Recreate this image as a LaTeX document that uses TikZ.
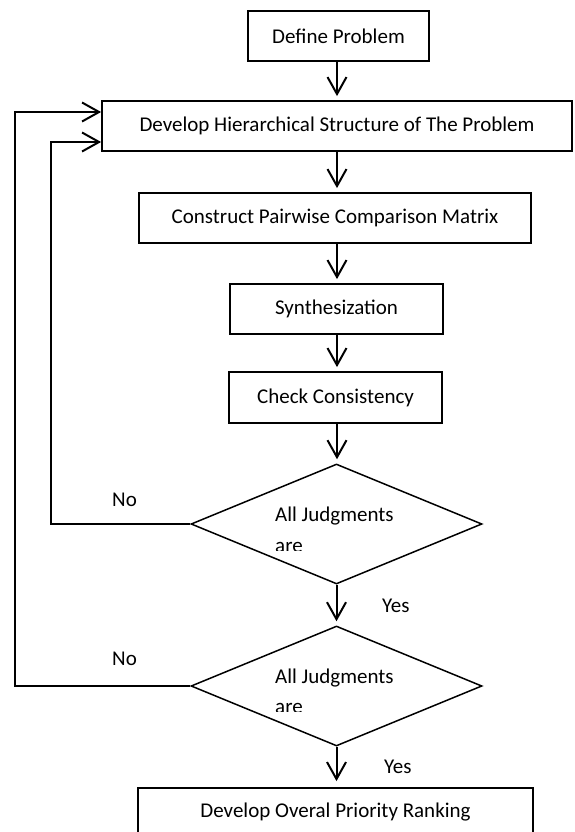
\documentclass[tikz,border=0pt]{standalone}
\usepackage{fontspec}
\setmainfont{Carlito}
\usetikzlibrary{arrows.meta,shapes.geometric}
\begin{document}
\begin{tikzpicture}[x=1pt,y=-1pt,
  every node/.style={font=\fontsize{21}{25}\selectfont},
  box/.style={draw,line width=1.8pt,inner sep=0pt,anchor=center},
  dia/.style={draw,diamond,line width=1.5pt,inner sep=0pt,minimum width=291pt,minimum height=120pt},
  conn/.style={line width=2pt,-{Straight Barb[length=17pt,width=19pt,line width=2pt]},shorten >=4pt},
  fb/.style={line width=2pt,-{Straight Barb[length=17pt,width=19pt,line width=2pt]}},
  lbl/.style={anchor=base west,inner sep=0pt}]
\useasboundingbox (0,0) rectangle (574,832);
\clip (0,0) rectangle (574,832);
\node[box,minimum width=181pt,minimum height=50pt] (def) at (338.5,36) {Define Problem};
\node[box,minimum width=470pt,minimum height=50pt] (hier) at (337,126) {Develop Hierarchical Structure of The Problem};
\node[box,minimum width=392pt,minimum height=50pt] (cons) at (335,218) {Construct Pairwise Comparison Matrix};
\node[box,minimum width=213pt,minimum height=50pt] (syn) at (336.5,309) {Synthesization};
\node[box,minimum width=213pt,minimum height=51pt] (chk) at (335.5,397.5) {Check Consistency};
\node[dia] (d1) at (336.5,524) {};
\node[dia] (d2) at (336.5,686) {};
\node[box,minimum width=395pt,minimum height=60pt] (fin) at (335.5,818) {};
\node[inner sep=0pt] (fint) at (335.5,812) {Develop Overal Priority Ranking};
% diamond texts
\node[lbl] (d1a) at (275,521) {All Judgments};
\node[lbl] (d2a) at (275,683) {All Judgments};
\begin{scope}
\clip (250,530) rectangle (420,550);
\node[lbl] (d1b) at (275,552) {are};
\end{scope}
\begin{scope}
\clip (250,692) rectangle (420,711.5);
\node[lbl] (d2b) at (275,713.5) {are};
\end{scope}
% labels
\node[lbl] (no1) at (112,506) {No};
\node[lbl] (no2) at (112,665) {No};
\node[lbl] (yes1) at (382,612) {Yes};
\node[lbl] (yes2) at (384,773) {Yes};
% connectors
\draw[conn] (def.south -| 337,0) -- (hier.north -| 337,0);
\draw[conn] (hier.south -| 337,0) -- (cons.north -| 337,0);
\draw[conn] (cons.south -| 337,0) -- (syn.north -| 337,0);
\draw[conn] (syn.south -| 337,0) -- (chk.north -| 337,0);
\draw[conn] (chk.south -| 337,0) -- (d1.north -| 337,0);
\draw[conn] (d1.south) -- (d2.north);
\draw[conn,shorten >=6pt] (d2.south) -- (fin.north -| d2.south);
\coordinate (c1) at (51,524);
\coordinate (c2) at (51,142);
\coordinate (c3) at (15,686);
\coordinate (c4) at (15,112);
\draw[fb] (d1.west) -- (c1) -- (c2) -- (hier.west |- c2);
\draw[fb] (d2.west) -- (c3) -- (c4) -- (hier.west |- c4);
\end{tikzpicture}
\end{document}
